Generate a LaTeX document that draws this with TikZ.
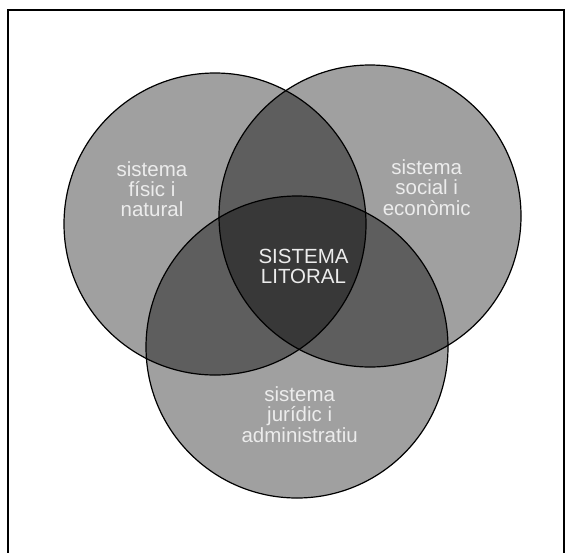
\documentclass[tikz,border=0pt]{standalone}
\usepackage{fontspec}
\setmainfont{Liberation Sans}
\definecolor{one}{RGB}{160,160,160}
\definecolor{two}{RGB}{94,94,94}
\definecolor{three}{RGB}{56,56,56}
\definecolor{txt}{RGB}{236,236,236}
\begin{document}
\begin{tikzpicture}[x=1pt,y=-1pt,
  ring/.style={draw=black,line width=1.2pt},
  lbl/.style={text=txt,align=center,inner sep=0pt,anchor=base,
    font=\fontsize{20.5}{20.3}\selectfont}]
\useasboundingbox (0,0) rectangle (569,552);
\fill[white] (0,0) rectangle (569,552);
\coordinate (L) at (215,224);
\coordinate (R) at (370,216);
\coordinate (B) at (297,347);
\fill[one] (L) circle[radius=151pt];
\fill[one] (R) circle[radius=151pt];
\fill[one] (B) circle[radius=151pt];
\begin{scope}
  \clip (L) circle[radius=151pt];
  \fill[two] (R) circle[radius=151pt];
  \fill[two] (B) circle[radius=151pt];
\end{scope}
\begin{scope}
  \clip (R) circle[radius=151pt];
  \fill[two] (B) circle[radius=151pt];
\end{scope}
\begin{scope}
  \clip (L) circle[radius=151pt];
  \clip (R) circle[radius=151pt];
  \fill[three] (B) circle[radius=151pt];
\end{scope}
\draw[ring] (L) circle[radius=151pt];
\draw[ring] (R) circle[radius=151pt];
\draw[ring] (B) circle[radius=151pt];
\node[lbl] (tl) at (152,216.7) {sistema\\físic i\\natural};
\node[lbl] (tr) at (426.7,215) {sistema\\social i\\econòmic};
\node[lbl] (tb) at (299.7,442) {sistema\\jurídic i\\administratiu};
\node[lbl] (tc) at (303.5,283.5) {SISTEMA\\LITORAL};
\draw[line width=2pt,black] (7.8,9.8) rectangle (563.8,570);
\end{tikzpicture}
\end{document}
